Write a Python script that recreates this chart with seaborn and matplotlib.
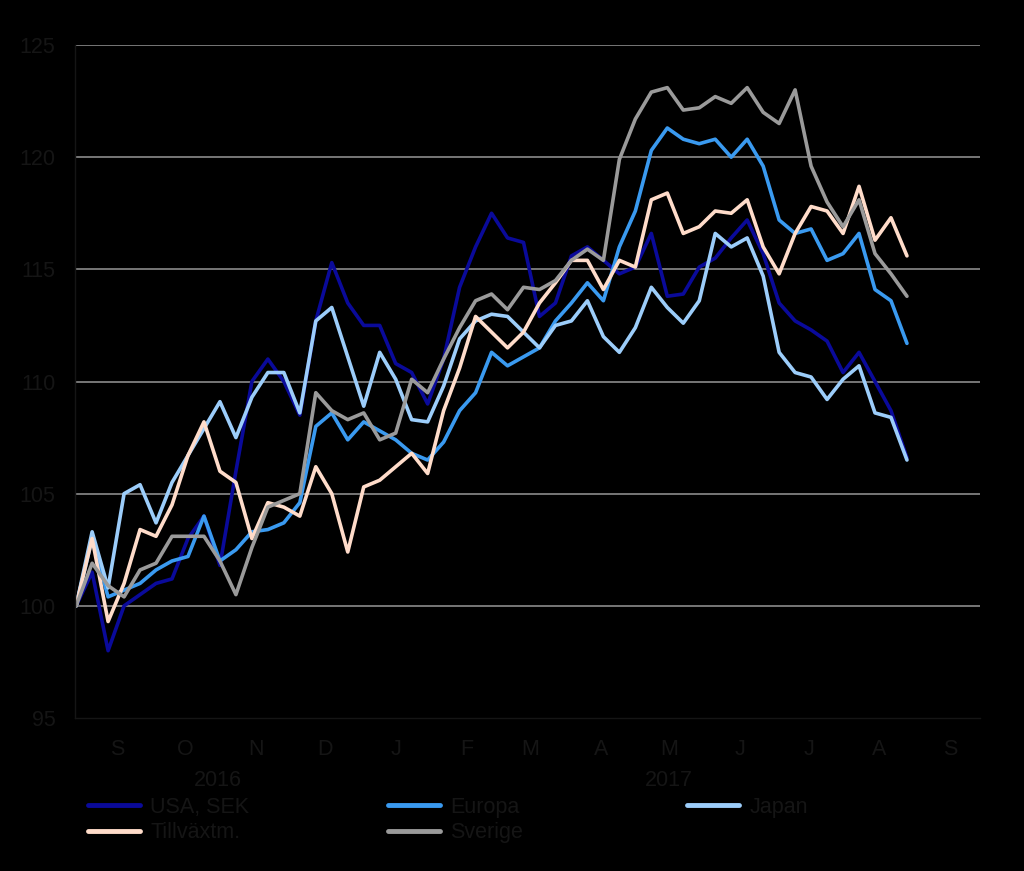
import numpy as np
import pandas as pd
import matplotlib
matplotlib.use("Agg")
import matplotlib.pyplot as plt
import matplotlib.dates as mdates
import seaborn as sns

# ---- data (weekly readings, index = 100 at start) ----
dates = pd.date_range("2016-08-29", periods=53, freq="7D")
series_names = ["USA, SEK", "Europa", "Japan", "Tillväxtm.", "Sverige"]
usa = [100, 101.5, 98.0, 100.0, 100.5, 101.0, 101.2, 103.0, 104.0, 101.8,
       106.0, 110.0, 111.0, 110.0, 108.5, 112.7, 115.3, 113.5, 112.5, 112.5,
       110.8, 110.4, 109.0, 111.0, 114.2, 116.0, 117.5, 116.4, 116.2, 112.9,
       113.5, 115.6, 116.0, 115.4, 114.8, 115.1, 116.6, 113.8, 113.9, 115.1,
       115.5, 116.4, 117.2, 115.7, 113.5, 112.7, 112.3, 111.8, 110.4, 111.3,
       110.0, 108.7, 106.6]
europa = [100, 103.0, 100.4, 100.7, 101.0, 101.6, 102.0, 102.2, 104.0, 102.0,
          102.5, 103.3, 103.4, 103.7, 104.6, 108.0, 108.6, 107.4, 108.2, 107.8,
          107.4, 106.8, 106.5, 107.3, 108.7, 109.5, 111.3, 110.7, 111.1, 111.5,
          112.7, 113.5, 114.4, 113.6, 116.0, 117.6, 120.3, 121.3, 120.8, 120.6,
          120.8, 120.0, 120.8, 119.6, 117.2, 116.6, 116.8, 115.4, 115.7, 116.6,
          114.1, 113.6, 111.7]
japan = [100, 103.3, 100.8, 105.0, 105.4, 103.7, 105.5, 106.7, 107.9, 109.1,
         107.5, 109.3, 110.4, 110.4, 108.6, 112.7, 113.3, 111.1, 108.9, 111.3,
         110.1, 108.3, 108.2, 109.8, 111.9, 112.7, 113.0, 112.9, 112.2, 111.5,
         112.5, 112.7, 113.6, 112.0, 111.3, 112.4, 114.2, 113.3, 112.6, 113.6,
         116.6, 116.0, 116.4, 114.7, 111.3, 110.4, 110.2, 109.2, 110.1, 110.7,
         108.6, 108.4, 106.5]
tillv = [100, 103.0, 99.3, 101.0, 103.4, 103.1, 104.5, 106.7, 108.2, 106.0,
         105.5, 103.0, 104.6, 104.4, 104.0, 106.2, 105.0, 102.4, 105.3, 105.6,
         106.2, 106.8, 105.9, 108.7, 110.6, 112.9, 112.2, 111.5, 112.2, 113.5,
         114.4, 115.4, 115.4, 114.1, 115.4, 115.1, 118.1, 118.4, 116.6, 116.9,
         117.6, 117.5, 118.1, 116.0, 114.8, 116.6, 117.8, 117.6, 116.6, 118.7,
         116.3, 117.3, 115.6]
sverige = [100, 101.9, 100.9, 100.4, 101.6, 101.9, 103.1, 103.1, 103.1, 102.0,
           100.5, 102.6, 104.4, 104.7, 105.0, 109.5, 108.7, 108.3, 108.6, 107.4,
           107.7, 110.1, 109.5, 111.0, 112.4, 113.6, 113.9, 113.2, 114.2, 114.1,
           114.5, 115.4, 115.9, 115.4, 119.9, 121.7, 122.9, 123.1, 122.1, 122.2,
           122.7, 122.4, 123.1, 122.0, 121.5, 123.0, 119.6, 118.0, 116.9, 118.1,
           115.7, 114.8, 113.8]
month_labels = ["S", "O", "N", "D", "J", "F", "M", "A", "M", "J", "J", "A", "S"]
year_labels = ["2016", "2017"]
yticks = [95, 100, 105, 110, 115, 120, 125]

colors = ["#0a0a9a", "#3a9af0", "#9ccdfa", "#ffdcca", "#9a9a9a"]

values = [usa, europa, japan, tillv, sverige]
df = pd.concat([pd.DataFrame({"date": dates, "value": v, "series": n})
                for n, v in zip(series_names, values)], ignore_index=True)

sns.set_theme(style="white")
plt.rcParams["font.family"] = ["Liberation Sans", "DejaVu Sans"]
TXT = "#151515"
FS = 15.5

fig = plt.figure(figsize=(10.24, 8.71), dpi=100, facecolor="black")
ax = fig.add_axes([75/1024, 1-718/871, (980-75)/1024, (718-45)/871])
ax.set_facecolor("black")

for v in yticks[1:]:
    ax.axhline(v, color="#808080", lw=1.3, zorder=0)

sns.lineplot(data=df, x="date", y="value", hue="series", hue_order=series_names,
             palette=colors, linewidth=2.6, legend=False, ax=ax)

ax.set_ylim(95, 125)
ax.set_xlim(pd.Timestamp("2016-08-28 12:00"), pd.Timestamp("2017-09-29"))
ax.set_yticks(yticks)
ax.set_yticklabels([str(t) for t in yticks])
ax.tick_params(axis="y", colors=TXT, labelsize=FS, length=8, direction="out", pad=6)

month_starts = pd.date_range("2016-09-01", "2017-09-01", freq="MS")
ax.set_xticks(month_starts)
ax.set_xticklabels([])
mids = month_starts + pd.Timedelta(days=15)
ax.set_xticks(mids, minor=True)
ax.set_xticklabels(month_labels, minor=True)
ax.tick_params(axis="x", which="major", colors=TXT, length=5, direction="out")
ax.tick_params(axis="x", which="minor", colors=TXT, length=0, pad=15, labelsize=FS)
ax.set_xlabel("")
ax.set_ylabel("")

for s in ["top", "right"]:
    ax.spines[s].set_visible(False)
for s in ["left", "bottom"]:
    ax.spines[s].set_color(TXT)
    ax.spines[s].set_linewidth(1.0)

fig.text(218/1024, 1-780/871, year_labels[0], ha="center", va="center", color=TXT, fontsize=FS)
fig.text(669/1024, 1-780/871, year_labels[1], ha="center", va="center", color=TXT, fontsize=FS)

lines = ax.get_lines()
series_lines = [l for l in lines if len(l.get_xdata()) == len(dates)]
handles = dict(zip(series_names, series_lines[-5:]))
cols = [["USA, SEK", "Tillväxtm."], ["Europa", "Sverige"], ["Japan"]]
col_x = [88, 388, 687]
for cx, names in zip(col_x, cols):
    leg = fig.legend([handles[n] for n in names], names, loc="upper left",
                     bbox_to_anchor=(cx/1024, 1-797/871), frameon=False,
                     fontsize=FS, handlelength=2.4, handletextpad=0.5,
                     labelspacing=0.2, borderaxespad=0, borderpad=0,
                     labelcolor=TXT)
    for lh in leg.get_lines():
        lh.set_linewidth(3.5)

fig.savefig("out.png", dpi=100, facecolor="black")
